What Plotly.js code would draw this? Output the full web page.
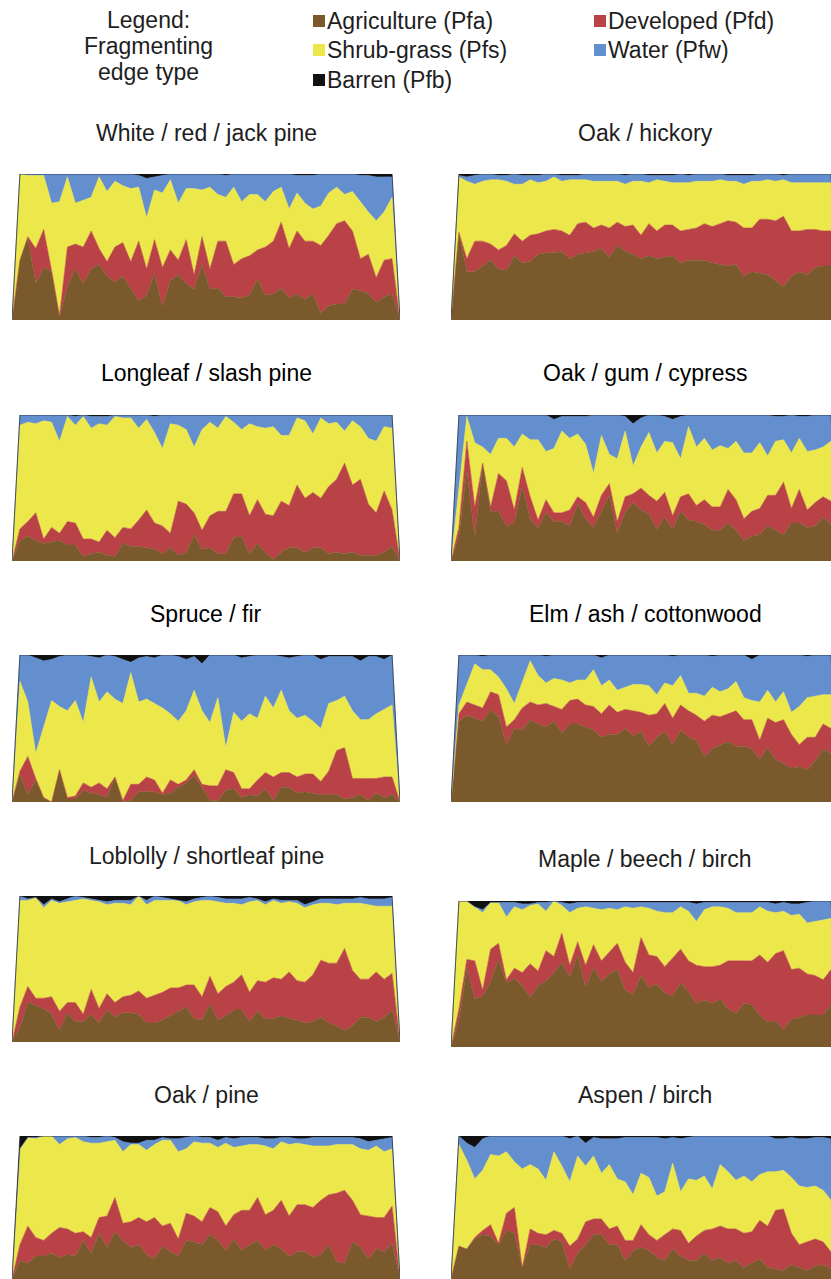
<!DOCTYPE html>
<html>
<head>
<meta charset="utf-8">
<script src="https://cdn.plot.ly/plotly-3.0.1.min.js"></script>
<style>
html,body{margin:0;padding:0;background:#fff;overflow:hidden;}
#chart{width:831px;height:1279px;}
</style>
</head>
<body>
<div id="chart"></div>
<script>
// ---------------- DATA (percent of fragmenting edge, by position along the x sequence) ----------------
const stepIndex = [0,1,2,3,4,5,6,7,8,9,10,11,12,13,14,15,16,17,18,19,20,21,22,23,24,25,26,27,28,29,30,31,32,33,34,35,36,37,38,39,40,41,42,43,44,45,46,47,48,49];

const panelTitles = ["White / red / jack pine","Oak / hickory","Longleaf / slash pine","Oak / gum / cypress","Spruce / fir","Elm / ash / cottonwood","Loblolly / shortleaf pine","Maple / beech / birch","Oak / pine","Aspen / birch"];

const seriesNames = ["Agriculture (Pfa)","Developed (Pfd)","Shrub-grass (Pfs)","Water (Pfw)","Barren (Pfb)"];

// White / red / jack pine
const wrj_Pfa = [0,41,56,25,36,33,2,23,35,25,35,38,30,26,30,21,13,17,32,9,27,31,25,21,38,21,22,16,16,15,17,28,17,18,22,15,18,14,18,5,10,11,11,21,20,18,12,16,18,0];
const wrj_Pfd = [0,0,1,24,26,1,1,27,17,25,26,11,10,24,23,19,41,18,23,27,21,10,30,10,19,14,32,38,22,27,27,20,33,36,45,34,43,40,36,46,48,55,57,40,22,27,17,25,24,0];
const wrj_Pfs = [0,59,42,50,37,46,78,48,28,32,23,49,48,45,39,50,37,35,34,51,48,39,35,59,32,56,32,30,53,39,42,38,31,34,24,27,26,26,22,27,29,25,18,27,39,29,39,33,42,0];
const wrj_Pfw = [0,0,1,1,1,20,19,2,20,18,16,2,12,5,8,10,8,27,9,12,4,20,10,10,11,9,14,15,9,19,14,14,19,12,9,24,12,19,23,22,13,9,14,12,18,25,30,24,14,0];
const wrj_Pfb = [0,0,0,0,0,0,0,0,0,0,0,0,0,0,0,0,1,3,2,1,0,0,0,0,0,0,0,1,0,0,0,0,0,0,0,0,1,1,1,0,0,0,0,0,1,1,2,2,2,0];

// Oak / hickory
const oh_Pfa = [0,60,33,33,37,41,35,34,44,39,40,45,46,46,47,42,45,46,47,49,43,51,47,45,42,44,42,43,44,39,41,41,41,39,38,37,38,30,33,32,31,27,23,30,33,31,36,37,37,0];
const oh_Pfd = [0,0,9,21,17,11,13,17,15,15,18,14,15,16,14,16,21,21,16,16,20,16,17,20,16,22,19,22,21,22,21,22,25,25,28,31,29,33,30,37,38,41,48,31,28,31,26,24,24,0];
const oh_Pfs = [0,38,53,39,41,44,48,44,34,39,38,35,34,36,34,38,30,29,32,30,32,28,29,30,37,28,35,30,29,33,32,32,29,31,30,27,28,30,32,26,27,27,25,33,33,32,32,33,33,0];
const oh_Pfw = [0,1,3,6,5,4,3,4,7,6,3,5,5,2,4,3,3,4,5,5,5,5,6,5,5,5,3,4,5,6,5,5,5,5,4,4,4,6,4,5,4,5,3,6,6,6,6,6,6,0];
const oh_Pfb = [0,1,2,1,0,0,1,1,0,1,1,1,0,0,1,1,1,0,0,0,0,0,1,0,0,1,1,1,1,0,1,0,0,0,0,1,1,1,1,0,0,0,1,0,0,0,0,0,0,0];

// Longleaf / slash pine
const ls_Pfa = [0,14,17,14,12,13,14,11,11,3,5,6,4,3,12,10,10,9,8,5,9,4,6,18,8,9,5,5,16,17,5,12,6,1,6,9,9,6,9,9,5,6,5,6,4,4,4,6,10,0];
const ls_Pfd = [0,8,10,19,3,10,5,16,15,12,10,7,17,13,11,12,18,26,18,19,10,37,33,15,13,22,29,29,30,29,26,30,26,30,35,29,43,37,38,34,46,50,62,46,52,35,29,42,25,0];
const ls_Pfs = [0,71,68,61,81,72,63,72,67,84,76,81,72,83,75,76,63,62,62,53,75,52,51,45,69,64,57,65,49,44,63,50,59,61,45,48,46,53,40,55,43,39,22,44,36,45,49,44,56,0];
const ls_Pfw = [0,7,5,6,4,5,18,1,6,1,8,5,6,1,2,2,9,3,11,23,6,7,10,22,10,5,9,1,5,10,6,8,9,8,14,14,2,4,13,2,6,5,11,4,8,16,18,8,9,0];
const ls_Pfb = [0,0,0,0,0,0,0,0,1,0,1,1,1,0,0,0,0,0,1,0,0,0,0,0,0,0,0,0,0,0,0,0,0,0,0,0,0,0,0,0,0,0,0,0,0,0,0,0,0,0];

// Oak / gum / cypress
const ogc_Pfa = [0,17,62,16,67,34,34,24,26,51,29,23,33,27,27,24,39,29,23,34,45,19,33,40,35,32,22,30,22,34,28,27,25,21,21,26,21,14,17,18,24,21,18,26,26,23,24,30,25,0];
const ogc_Pfd = [0,6,20,21,0,3,26,31,9,13,15,5,9,6,6,11,5,11,7,11,8,8,11,6,15,13,19,17,9,10,18,11,17,16,16,23,21,15,17,18,21,24,36,10,23,12,16,14,16,0];
const ogc_Pfs = [0,25,17,44,11,36,24,29,43,23,39,55,33,44,56,49,43,40,30,41,20,43,45,19,28,43,33,35,50,26,46,40,42,39,42,28,40,45,40,45,27,37,29,38,35,40,36,34,41,0];
const ogc_Pfw = [0,52,1,19,22,27,16,16,22,13,17,17,25,20,10,15,12,19,40,14,27,30,10,29,20,12,26,17,16,29,8,22,16,24,21,23,18,26,26,19,28,17,16,26,15,24,24,22,18,0];
const ogc_Pfb = [0,0,0,0,0,0,0,0,0,0,0,0,0,3,1,1,1,1,0,0,0,0,1,6,2,0,0,1,3,1,0,0,0,0,0,0,0,0,0,0,0,1,1,0,1,1,0,0,0,0];

// Spruce / fir
const sf_Pfa = [0,19,5,15,3,0,22,2,2,8,6,5,3,17,0,1,7,7,7,5,6,10,13,18,10,1,1,8,9,3,5,4,9,1,10,10,6,7,6,5,5,5,2,3,5,1,6,3,5,0];
const sf_Pfd = [0,2,26,1,0,0,0,1,2,5,4,8,6,0,1,11,5,10,8,1,9,2,2,4,2,10,10,14,11,6,4,11,11,16,10,10,11,12,13,9,16,30,35,13,11,15,10,14,12,0];
const sf_Pfs = [0,61,37,17,48,69,43,59,65,41,75,55,66,53,66,76,56,53,52,58,45,43,47,54,50,43,60,15,41,46,51,42,52,47,56,42,40,40,36,36,46,34,35,46,40,40,44,46,49,0];
const sf_Pfw = [0,18,32,65,45,28,34,38,31,46,14,30,25,29,30,7,30,29,31,36,40,44,35,23,32,46,29,63,39,43,39,43,28,36,23,36,42,41,45,47,32,30,27,37,40,43,39,34,34,0];
const sf_Pfb = [0,0,0,2,4,3,1,0,0,0,1,2,0,1,3,5,2,1,2,0,0,1,3,1,6,0,0,0,0,2,1,0,0,0,1,2,1,0,0,3,1,1,1,1,4,1,1,3,0,0];

// Elm / ash / cottonwood
const eac_Pfa = [0,55,59,57,55,63,58,39,50,49,56,53,51,55,47,53,53,51,49,44,46,46,50,45,48,38,44,48,39,49,44,42,31,36,39,41,38,38,36,29,37,29,26,23,24,22,28,36,33,0];
const eac_Pfd = [0,5,9,9,9,12,15,12,6,15,12,13,16,10,16,16,17,15,16,16,20,15,13,17,13,21,16,19,18,17,18,17,24,23,19,19,24,18,20,13,20,25,30,23,15,22,16,17,17,0];
const eac_Pfs = [0,6,12,28,26,15,12,26,11,18,28,20,14,19,20,12,13,17,25,19,17,15,15,18,19,20,13,14,22,20,12,15,17,19,17,17,20,15,13,26,19,14,19,15,26,27,28,20,23,0];
const eac_Pfw = [0,34,20,6,9,10,15,23,33,18,4,14,18,16,17,19,17,17,10,19,17,24,22,20,20,21,27,19,20,14,26,26,28,21,25,23,18,29,28,32,24,32,25,39,35,28,28,27,27,0];
const eac_Pfb = [0,0,0,0,1,0,0,0,0,0,0,0,1,0,0,0,0,0,0,2,0,0,0,0,0,0,0,0,1,0,0,0,0,1,0,0,0,0,3,0,0,0,0,0,0,1,0,0,0,0];

// Loblolly / shortleaf pine
const lsp_Pfa = [0,10,27,25,23,19,8,20,14,14,19,13,22,17,20,20,19,13,13,15,18,21,24,16,15,26,15,18,22,22,14,21,16,16,18,16,15,13,14,17,13,11,8,11,17,17,14,17,22,0];
const lsp_Pfd = [0,14,11,5,7,12,13,7,13,5,17,10,11,10,11,12,16,17,19,19,19,16,15,23,16,19,18,20,19,24,20,21,25,28,25,32,27,28,32,39,41,43,56,38,26,26,34,26,25,0];
const lsp_Pfs = [0,73,59,69,62,66,74,69,70,79,61,73,61,68,64,62,65,64,65,63,60,60,55,57,66,52,63,57,54,48,62,55,53,53,52,48,53,51,48,39,41,40,31,46,52,51,45,50,46,0];
const lsp_Pfw = [0,3,1,0,2,1,1,2,3,1,1,1,2,2,2,3,0,3,3,2,1,0,2,2,2,3,3,3,3,4,3,1,2,1,2,1,2,2,2,3,3,4,3,3,4,4,5,5,6,0];
const lsp_Pfb = [0,0,2,1,6,2,4,2,0,1,2,3,4,3,3,3,0,3,0,1,2,3,4,2,1,0,1,2,2,2,1,2,4,2,3,3,3,6,4,2,2,2,2,2,1,2,2,2,1,0];

// Maple / beech / birch
const mbb_Pfa = [0,18,54,33,35,45,60,44,47,42,34,42,45,51,58,48,63,41,54,45,50,53,39,36,49,41,43,37,35,44,38,30,32,30,33,26,23,30,29,22,17,18,12,19,20,22,22,22,29,0];
const mbb_Pfd = [0,8,6,26,4,22,11,2,7,9,23,10,21,11,20,8,9,15,16,14,15,18,19,15,26,22,19,18,26,23,21,26,23,25,23,33,36,29,30,41,41,46,54,34,34,28,27,24,24,0];
const mbb_Pfs = [0,74,40,37,53,32,28,43,42,43,40,46,27,38,19,36,23,40,25,35,30,23,38,44,21,32,31,37,31,29,34,30,39,41,40,36,33,33,33,33,35,28,27,37,37,35,37,41,35,0];
const mbb_Pfw = [0,0,0,0,2,0,0,10,3,4,1,1,6,0,2,6,4,3,4,5,4,5,3,4,3,4,6,7,7,3,6,12,5,3,3,4,7,7,7,3,6,6,6,8,7,14,14,13,12,0];
const mbb_Pfb = [0,0,0,4,6,1,1,1,1,2,2,1,1,0,1,2,1,1,1,1,1,1,1,1,1,1,1,1,1,1,1,2,1,1,1,1,1,1,1,1,1,2,1,2,2,1,0,0,0,0];

// Oak / pine
const op_Pfa = [0,13,11,16,16,18,15,17,16,27,18,32,22,33,27,22,24,17,14,23,19,16,27,26,24,31,27,20,28,20,24,27,20,24,21,16,19,19,15,17,24,12,11,26,22,14,21,19,25,0];
const op_Pfd = [0,11,26,13,11,14,21,18,16,6,11,11,22,24,12,18,19,23,29,14,20,12,19,18,16,19,20,17,17,28,24,30,25,24,34,28,33,33,35,38,35,48,51,29,23,30,22,24,26,0];
const op_Pfs = [0,67,62,69,73,68,58,63,67,63,66,52,52,40,50,54,51,50,51,60,58,61,45,52,55,45,45,58,47,45,46,37,48,43,41,50,43,42,43,38,34,34,32,39,46,46,50,46,40,0];
const op_Pfw = [0,0,0,1,0,0,6,2,1,4,4,4,4,2,7,1,1,7,3,2,1,9,8,4,4,4,5,4,6,6,5,5,5,7,3,5,3,4,6,6,6,5,5,5,7,6,4,9,8,0];
const op_Pfb = [0,9,1,1,0,0,0,0,0,0,1,1,0,1,4,5,5,3,3,1,2,2,1,0,1,1,3,1,2,1,1,1,2,2,1,1,2,2,1,1,1,1,1,1,2,4,3,2,1,0];

// Aspen / birch
const ab_Pfa = [0,23,21,28,31,30,24,34,32,8,24,24,22,28,26,7,18,24,31,31,24,24,13,20,22,20,15,13,21,16,13,13,18,13,15,11,13,8,11,14,8,7,6,10,8,6,9,10,7,0];
const ab_Pfd = [0,0,0,1,3,8,1,12,18,0,11,8,9,6,6,16,10,16,11,11,11,13,14,7,16,11,12,18,14,18,12,17,16,22,22,24,22,24,22,27,29,41,43,22,16,20,19,16,12,0];
const ab_Pfs = [0,71,62,41,42,49,61,43,32,69,45,45,38,55,47,45,58,39,44,32,45,33,41,32,36,40,31,30,46,27,45,39,38,28,43,40,34,40,35,32,38,27,27,39,41,38,37,36,36,0];
const ab_Pfw = [0,6,12,22,22,13,14,11,18,23,20,23,31,11,21,30,14,16,13,24,18,28,31,40,25,28,41,37,18,37,29,31,28,37,20,25,31,28,32,27,25,23,22,28,33,34,34,37,43,0];
const ab_Pfb = [0,0,5,8,2,0,0,0,0,0,0,0,0,0,0,2,0,5,1,2,2,2,1,1,1,1,1,2,1,2,1,0,0,0,0,0,0,0,0,0,0,2,2,1,2,2,1,1,2,0];

// ---------------- BUILD ----------------
const panelSeries = [
  [wrj_Pfa, wrj_Pfd, wrj_Pfs, wrj_Pfw, wrj_Pfb],
  [oh_Pfa, oh_Pfd, oh_Pfs, oh_Pfw, oh_Pfb],
  [ls_Pfa, ls_Pfd, ls_Pfs, ls_Pfw, ls_Pfb],
  [ogc_Pfa, ogc_Pfd, ogc_Pfs, ogc_Pfw, ogc_Pfb],
  [sf_Pfa, sf_Pfd, sf_Pfs, sf_Pfw, sf_Pfb],
  [eac_Pfa, eac_Pfd, eac_Pfs, eac_Pfw, eac_Pfb],
  [lsp_Pfa, lsp_Pfd, lsp_Pfs, lsp_Pfw, lsp_Pfb],
  [mbb_Pfa, mbb_Pfd, mbb_Pfs, mbb_Pfw, mbb_Pfb],
  [op_Pfa, op_Pfd, op_Pfs, op_Pfw, op_Pfb],
  [ab_Pfa, ab_Pfd, ab_Pfs, ab_Pfw, ab_Pfb]
];

const COLORS = ['#7A5A2D', '#B94246', '#ECE84C', '#638FCE', '#111111'];
const FONT = '"Liberation Sans", Arial, Helvetica, sans-serif';
const W = 831, H = 1279;
const TXT = 23;

const colsPx = [{x0: 12, x1: 400, range: [0, 49], cx: 206}, {x0: 451, x1: 831, range: [0, 48], cx: 645}];
const rowsPx = [[174,320],[174,320],[415,561],[415,561],[655,802],[655,802],[896,1042],[901,1047],[1136,1279],[1136,1279]];
const titleY = [133,133,373,373,614,614,856,859,1095,1095];
const titleColor = ['#1e1e1e','#1e1e1e','#000','#000','#000','#000','#1e1e1e','#1e1e1e','#1e1e1e','#1e1e1e'];

const traces = [];
const layout = {
  width: W, height: H,
  margin: {l: 0, r: 0, t: 0, b: 0, pad: 0},
  paper_bgcolor: '#ffffff', plot_bgcolor: 'rgba(0,0,0,0)',
  showlegend: false,
  font: {family: FONT, color: '#111'},
  annotations: [], shapes: []
};

panelSeries.forEach((series, i) => {
  const n = i + 1;
  const xa = 'x' + (n > 1 ? n : ''), ya = 'y' + (n > 1 ? n : '');
  const col = colsPx[i % 2];
  const row = rowsPx[i];
  series.forEach((vals, s) => {
    traces.push({
      type: 'scatter', mode: 'lines', x: stepIndex, y: vals,
      name: seriesNames[s], stackgroup: 'g' + n,
      line: {width: 0.6, color: COLORS[s], shape: 'linear'},
      fillcolor: COLORS[s],
      xaxis: xa, yaxis: ya, hoverinfo: 'skip', showlegend: false
    });
  });
  const axCommon = {visible: false, showgrid: false, zeroline: false, fixedrange: true};
  layout['xaxis' + (n > 1 ? n : '')] = Object.assign({}, axCommon, {
    domain: [col.x0 / W, col.x1 / W], range: col.range, anchor: ya
  });
  layout['yaxis' + (n > 1 ? n : '')] = Object.assign({}, axCommon, {
    domain: [1 - row[1] / H, 1 - row[0] / H], range: [0, 100], anchor: xa
  });
  layout.annotations.push({
    xref: 'paper', yref: 'paper', x: col.cx / W, y: 1 - titleY[i] / H,
    xanchor: 'center', yanchor: 'middle', showarrow: false,
    text: panelTitles[i], font: {family: FONT, size: TXT, color: titleColor[i]}
  });
});

// Legend block
const legendHead = ["Legend:", "Fragmenting", "edge type"];
const legendHeadY = [20, 46, 72];
legendHead.forEach((t, j) => {
  layout.annotations.push({
    xref: 'paper', yref: 'paper', x: 148 / W, y: 1 - legendHeadY[j] / H,
    xanchor: 'center', yanchor: 'middle', showarrow: false,
    text: t, font: {family: FONT, size: TXT, color: '#1e1e1e'}
  });
});
// order of legend entries: [series index, column x (px), row y (px)]
const legendPos = [[0, 313, 21], [2, 313, 50], [4, 313, 80], [1, 594, 21], [3, 594, 50]];
legendPos.forEach(([s, lx, ly]) => {
  layout.shapes.push({
    type: 'rect', xref: 'paper', yref: 'paper',
    x0: lx / W, x1: (lx + 12) / W, y0: 1 - (ly + 6) / H, y1: 1 - (ly - 6) / H,
    fillcolor: COLORS[s], line: {width: 0}
  });
  layout.annotations.push({
    xref: 'paper', yref: 'paper', x: (lx + 12) / W, y: 1 - ly / H,
    xanchor: 'left', yanchor: 'middle', showarrow: false,
    text: seriesNames[s], font: {family: FONT, size: TXT, color: '#1e1e1e'}
  });
});

Plotly.newPlot('chart', traces, layout, {staticPlot: true, displayModeBar: false});
</script>
</body>
</html>
